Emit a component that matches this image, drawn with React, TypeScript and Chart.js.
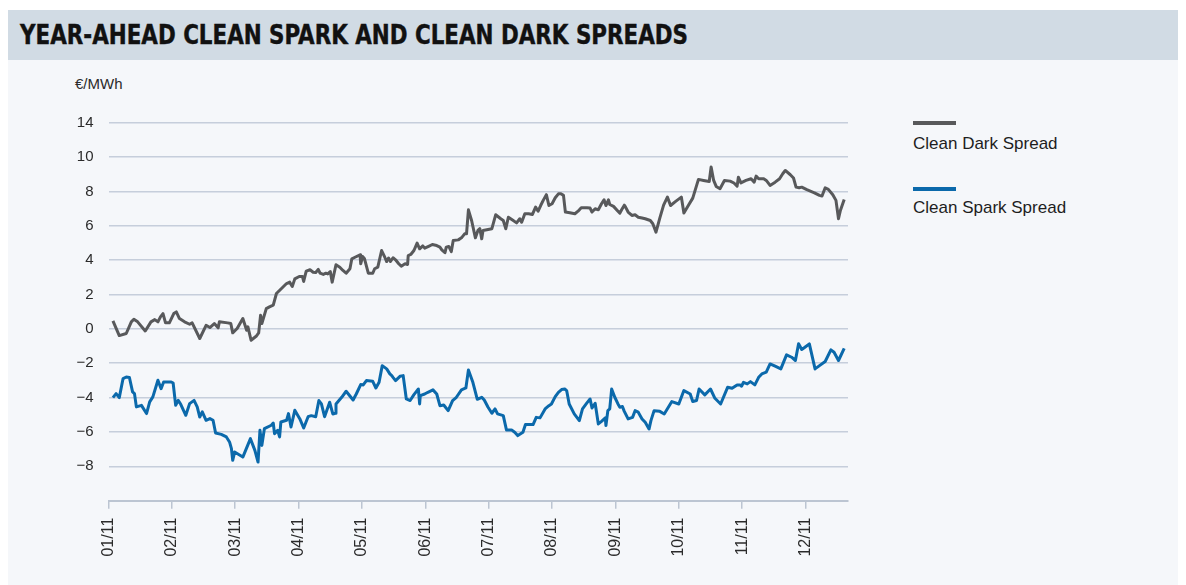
import React, { useEffect, useLayoutEffect, useRef } from 'react';
import { Chart, registerables } from 'chart.js';

Chart.register(...registerables);

const monthLabels = ['01/11', '02/11', '03/11', '04/11', '05/11', '06/11', '07/11', '08/11', '09/11', '10/11', '11/11', '12/11'];
const yTickValues = [12, 10, 8, 6, 4, 2, 0, -2, -4, -6, -8];
const yTickLabels = ['14', '10', '8', '6', '4', '2', '0', '\u22122', '\u22124', '\u22126', '\u22128'];

// x = months since 01/11 (fractional), y = €/MWh
const darkX = [0.07, 0.17, 0.28, 0.36, 0.40, 0.46, 0.58, 0.67, 0.73, 0.78, 0.82, 0.86, 0.90, 0.96, 1.03, 1.07, 1.12, 1.20, 1.28, 1.32, 1.44, 1.54, 1.60, 1.67, 1.73, 1.75, 1.88, 1.93, 1.96, 2.03, 2.12, 2.18, 2.20, 2.25, 2.33, 2.37, 2.40, 2.42, 2.49, 2.54, 2.60, 2.65, 2.73, 2.81, 2.86, 2.90, 2.94, 3.01, 3.06, 3.08, 3.12, 3.18, 3.23, 3.27, 3.31, 3.34, 3.39, 3.43, 3.46, 3.50, 3.53, 3.59, 3.65, 3.70, 3.75, 3.81, 3.84, 3.89, 3.97, 3.98, 4.01, 4.04, 4.10, 4.17, 4.20, 4.25, 4.31, 4.36, 4.39, 4.42, 4.45, 4.49, 4.53, 4.58, 4.62, 4.68, 4.72, 4.73, 4.77, 4.82, 4.87, 4.91, 4.96, 4.99, 5.06, 5.11, 5.18, 5.23, 5.26, 5.31, 5.33, 5.37, 5.41, 5.44, 5.52, 5.57, 5.62, 5.65, 5.68, 5.73, 5.79, 5.83, 5.86, 5.89, 5.91, 6.05, 6.11, 6.19, 6.23, 6.27, 6.31, 6.37, 6.44, 6.49, 6.52, 6.57, 6.63, 6.69, 6.74, 6.78, 6.82, 6.86, 6.91, 6.95, 7.00, 7.05, 7.10, 7.14, 7.18, 7.21, 7.28, 7.36, 7.41, 7.46, 7.55, 7.60, 7.63, 7.68, 7.73, 7.78, 7.82, 7.85, 7.89, 7.91, 7.97, 8.04, 8.07, 8.10, 8.14, 8.16, 8.20, 8.26, 8.31, 8.36, 8.42, 8.47, 8.55, 8.59, 8.64, 8.70, 8.76, 8.82, 8.87, 8.95, 9.04, 9.08, 9.15, 9.22, 9.31, 9.39, 9.48, 9.51, 9.55, 9.59, 9.65, 9.72, 9.81, 9.87, 9.92, 9.94, 9.98, 10.06, 10.14, 10.19, 10.22, 10.26, 10.34, 10.38, 10.44, 10.52, 10.59, 10.64, 10.68, 10.76, 10.81, 10.85, 10.90, 10.94, 11.02, 11.14, 11.22, 11.26, 11.31, 11.36, 11.43, 11.48, 11.52, 11.55, 11.61];
const darkY = [0.47, -0.39, -0.27, 0.41, 0.56, 0.41, -0.12, 0.41, 0.54, 0.41, 0.70, 0.89, 0.35, 0.35, 0.89, 0.99, 0.60, 0.41, 0.27, 0.35, -0.56, 0.21, 0.08, 0.31, 0.06, 0.41, 0.35, 0.31, -0.23, 0.02, 0.60, -0.08, 0.12, -0.66, -0.43, -0.23, 0.80, 0.31, 1.18, 1.28, 1.38, 2.06, 2.35, 2.64, 2.72, 2.47, 2.91, 3.05, 3.05, 2.76, 3.36, 3.44, 3.30, 3.28, 3.46, 3.24, 3.17, 3.24, 3.20, 3.34, 2.72, 3.73, 3.59, 3.40, 3.24, 3.50, 4.08, 4.17, 4.31, 3.79, 4.21, 4.08, 3.24, 3.24, 3.50, 3.59, 4.56, 4.17, 3.92, 4.12, 3.92, 4.14, 4.02, 3.79, 3.65, 3.79, 3.75, 4.27, 4.33, 4.56, 4.99, 4.66, 4.83, 4.70, 4.82, 4.91, 4.85, 4.76, 4.60, 4.43, 4.76, 4.80, 4.50, 5.15, 5.18, 5.30, 5.53, 5.53, 6.93, 6.31, 5.30, 5.73, 5.83, 5.24, 5.73, 5.83, 6.64, 6.41, 6.31, 5.83, 6.50, 6.35, 6.17, 6.41, 6.21, 6.70, 6.70, 6.66, 7.09, 6.85, 7.18, 7.48, 7.81, 7.18, 7.28, 7.63, 7.86, 7.86, 7.77, 6.80, 6.76, 6.70, 6.85, 7.05, 7.05, 7.03, 6.80, 6.99, 6.93, 7.28, 7.51, 7.18, 7.51, 7.24, 7.13, 6.85, 6.74, 6.95, 7.20, 7.09, 6.80, 6.60, 6.64, 6.50, 6.45, 6.41, 6.31, 6.12, 5.63, 6.45, 7.20, 7.67, 7.18, 7.42, 7.67, 6.74, 7.18, 7.61, 8.70, 8.64, 8.58, 9.42, 8.64, 8.29, 8.16, 8.64, 8.60, 8.49, 8.31, 8.83, 8.50, 8.64, 8.74, 8.54, 8.89, 8.74, 8.74, 8.64, 8.35, 8.54, 8.74, 9.03, 9.22, 8.97, 8.78, 8.25, 8.21, 8.25, 8.10, 7.92, 7.77, 7.73, 8.21, 8.12, 7.81, 7.48, 6.41, 6.89, 7.53];

const sparkX = [0.07, 0.12, 0.17, 0.23, 0.28, 0.33, 0.38, 0.41, 0.44, 0.52, 0.60, 0.65, 0.70, 0.78, 0.83, 0.87, 0.99, 1.02, 1.06, 1.10, 1.14, 1.22, 1.28, 1.35, 1.40, 1.44, 1.48, 1.54, 1.60, 1.65, 1.69, 1.78, 1.86, 1.91, 1.94, 1.96, 1.99, 2.12, 2.24, 2.31, 2.36, 2.39, 2.42, 2.46, 2.57, 2.60, 2.62, 2.67, 2.70, 2.72, 2.81, 2.84, 2.88, 2.94, 3.02, 3.08, 3.15, 3.20, 3.27, 3.32, 3.36, 3.41, 3.49, 3.54, 3.58, 3.59, 3.68, 3.75, 3.86, 3.91, 3.98, 4.02, 4.07, 4.17, 4.22, 4.27, 4.32, 4.39, 4.44, 4.47, 4.49, 4.53, 4.60, 4.65, 4.70, 4.76, 4.82, 4.89, 4.91, 4.92, 4.99, 5.04, 5.12, 5.18, 5.23, 5.29, 5.36, 5.43, 5.49, 5.57, 5.64, 5.68, 5.75, 5.82, 5.89, 5.93, 5.99, 6.05, 6.10, 6.14, 6.23, 6.28, 6.36, 6.41, 6.46, 6.54, 6.58, 6.70, 6.75, 6.81, 6.89, 6.95, 6.99, 7.05, 7.10, 7.15, 7.20, 7.23, 7.27, 7.35, 7.43, 7.48, 7.55, 7.60, 7.63, 7.68, 7.73, 7.78, 7.84, 7.85, 7.88, 7.91, 7.94, 7.99, 8.04, 8.07, 8.11, 8.14, 8.20, 8.27, 8.31, 8.36, 8.42, 8.47, 8.53, 8.56, 8.61, 8.70, 8.77, 8.89, 9.00, 9.08, 9.18, 9.22, 9.28, 9.32, 9.41, 9.50, 9.57, 9.66, 9.77, 9.84, 9.92, 9.97, 9.99, 10.02, 10.08, 10.13, 10.20, 10.26, 10.31, 10.38, 10.44, 10.52, 10.61, 10.70, 10.78, 10.84, 10.89, 10.94, 10.99, 11.06, 11.15, 11.22, 11.31, 11.40, 11.45, 11.52, 11.61];
const sparkY = [-4.00, -3.77, -4.00, -2.89, -2.80, -2.83, -3.67, -3.77, -4.54, -4.45, -4.93, -4.25, -3.96, -2.99, -3.48, -3.09, -3.09, -3.15, -4.45, -4.16, -4.39, -5.03, -4.35, -4.16, -4.54, -5.13, -4.83, -5.32, -5.22, -5.32, -6.06, -6.14, -6.29, -6.58, -6.97, -7.65, -7.17, -7.46, -6.39, -7.07, -7.75, -5.90, -6.78, -5.81, -5.61, -5.48, -6.10, -5.90, -6.29, -5.42, -5.32, -4.93, -5.71, -4.74, -5.24, -5.77, -5.11, -5.05, -5.11, -4.17, -4.37, -5.11, -4.27, -4.95, -4.91, -4.37, -3.98, -3.63, -4.14, -3.79, -3.24, -3.26, -3.01, -3.05, -3.44, -3.11, -2.14, -2.33, -2.62, -2.72, -2.82, -3.01, -2.76, -2.72, -4.08, -4.17, -3.83, -3.50, -4.37, -3.88, -3.79, -3.69, -3.55, -3.79, -4.47, -4.43, -4.76, -4.17, -3.98, -3.55, -3.44, -2.39, -3.11, -4.10, -3.98, -4.14, -4.56, -4.91, -4.66, -4.95, -5.05, -5.88, -5.88, -6.02, -6.21, -6.02, -5.57, -5.57, -5.15, -5.18, -4.66, -4.47, -4.37, -3.94, -3.69, -3.53, -3.50, -3.59, -4.37, -4.95, -5.34, -4.66, -4.31, -4.08, -4.60, -4.33, -5.53, -5.38, -5.18, -5.63, -4.76, -4.66, -3.50, -3.98, -4.37, -4.56, -4.52, -4.80, -5.24, -5.15, -4.76, -4.85, -5.24, -5.44, -5.83, -5.34, -4.76, -4.80, -4.95, -4.23, -4.37, -3.59, -3.79, -4.23, -4.17, -3.50, -3.84, -3.50, -4.04, -4.37, -3.40, -3.46, -3.26, -3.26, -3.34, -3.11, -3.20, -3.07, -3.26, -2.82, -2.62, -2.52, -2.04, -2.17, -2.33, -1.51, -1.65, -1.84, -0.87, -1.20, -1.07, -0.87, -2.33, -2.14, -1.90, -1.22, -1.36, -1.84, -1.13];

const seriesNames = ['Clean Dark Spread', 'Clean Spark Spread'];
const seriesColors = ['#58595b', '#0b69ab'];

const FONT = '"Liberation Sans", Arial, sans-serif';
const GRID = '#c6cedb';

export default function App() {
  const canvasRef = useRef<HTMLCanvasElement | null>(null);
  const titleRef = useRef<HTMLSpanElement | null>(null);

  useLayoutEffect(() => {
    document.documentElement.style.overflow = 'hidden';
    const el = titleRef.current;
    if (el) {
      el.style.transform = 'none';
      const w = el.getBoundingClientRect().width;
      if (w > 0) el.style.transform = `scaleX(${668 / w})`;
    }
  }, []);

  useEffect(() => {
    if (!canvasRef.current) return;
    const toPts = (xs: number[], ys: number[]) => xs.map((x, i) => ({ x, y: ys[i] }));
    const chart = new Chart(canvasRef.current, {
      type: 'line',
      data: {
        datasets: [
          {
            label: seriesNames[0],
            data: toPts(darkX, darkY),
            borderColor: seriesColors[0],
            backgroundColor: seriesColors[0],
            borderWidth: 3,
            pointRadius: 0,
            tension: 0,
            borderJoinStyle: 'round',
          },
          {
            label: seriesNames[1],
            data: toPts(sparkX, sparkY),
            borderColor: seriesColors[1],
            backgroundColor: seriesColors[1],
            borderWidth: 3,
            pointRadius: 0,
            tension: 0,
            borderJoinStyle: 'round',
          },
        ],
      },
      options: {
        responsive: false,
        animation: false,
        events: [],
        layout: { padding: { top: 62.7, right: 30, left: 0, bottom: 0 } },
        plugins: { legend: { display: false }, tooltip: { enabled: false }, title: { display: false } },
        scales: {
          x: {
            type: 'linear',
            min: 0,
            max: 11.67,
            afterBuildTicks: (s: any) => {
              s.ticks = monthLabels.map((_, i) => ({ value: i }));
            },
            afterFit: (s: any) => {
              s.height = 84.3;
            },
            ticks: {
              autoSkip: false,
              maxRotation: 90,
              minRotation: 90,
              padding: 9,
              color: '#2b2b2b',
              font: { family: FONT, size: 16 },
              callback: (v: any) => monthLabels[Math.round(Number(v))] ?? '',
            },
            grid: { drawOnChartArea: false, drawTicks: true, tickLength: 8, color: '#bcc5d2', lineWidth: 1.5 },
            border: { display: true, color: '#bcc5d2', width: 2 },
          },
          y: {
            type: 'linear',
            min: -10,
            max: 12,
            afterBuildTicks: (s: any) => {
              s.ticks = yTickValues.map((v) => ({ value: v }));
            },
            afterFit: (s: any) => {
              s.width = 100.5;
            },
            ticks: {
              padding: 15,
              color: '#2b2b2b',
              font: { family: FONT, size: 15 },
              callback: (v: any) => {
                const i = yTickValues.indexOf(Number(v));
                return i >= 0 ? yTickLabels[i] : '';
              },
            },
            grid: { drawTicks: false, color: GRID, lineWidth: 1.5 },
            border: { display: false },
          },
        },
      },
    });
    return () => chart.destroy();
  }, []);

  const legendLine = (top: number, color: string) => (
    <div style={{ position: 'absolute', left: 905, top, width: 43, height: 4, background: color }} />
  );
  const legendText = (top: number, text: string) => (
    <div
      style={{
        position: 'absolute',
        left: 905,
        top,
        fontFamily: FONT,
        fontSize: 17,
        lineHeight: '20px',
        color: '#1e1e1e',
        whiteSpace: 'nowrap',
      }}
    >
      {text}
    </div>
  );

  return (
    <div style={{ position: 'relative', marginTop: 2, width: 1172, height: 575, background: '#f5f7fa', overflow: 'hidden' }}>
      <div style={{ position: 'absolute', left: 0, top: 0, width: 1172, height: 50, background: '#d1dbe4' }}>
        <span
          ref={titleRef}
          style={{
            position: 'absolute',
            left: 12,
            top: 11,
            fontFamily: '"Liberation Sans Narrow", "DejaVu Sans Condensed", "Arial Narrow", sans-serif',
            fontWeight: 'bold',
            fontSize: 26,
            lineHeight: '29px',
            color: '#111',
            whiteSpace: 'nowrap',
            transformOrigin: 'left center',
            display: 'inline-block',
            WebkitTextStroke: '0.4px #111',
          }}
        >
          YEAR-AHEAD CLEAN SPARK AND CLEAN DARK SPREADS
        </span>
      </div>
      <div
        style={{
          position: 'absolute',
          left: 67,
          top: 65,
          fontFamily: FONT,
          fontSize: 15,
          lineHeight: '18px',
          color: '#2b2b2b',
          whiteSpace: 'nowrap',
        }}
      >
        €/MWh
      </div>
      <canvas
        ref={canvasRef}
        width={870}
        height={525}
        style={{ position: 'absolute', left: 0, top: 50, width: 870, height: 525 }}
      />
      {legendLine(110.5, seriesColors[0])}
      {legendText(124, seriesNames[0])}
      {legendLine(176.5, seriesColors[1])}
      {legendText(187.5, seriesNames[1])}
    </div>
  );
}
